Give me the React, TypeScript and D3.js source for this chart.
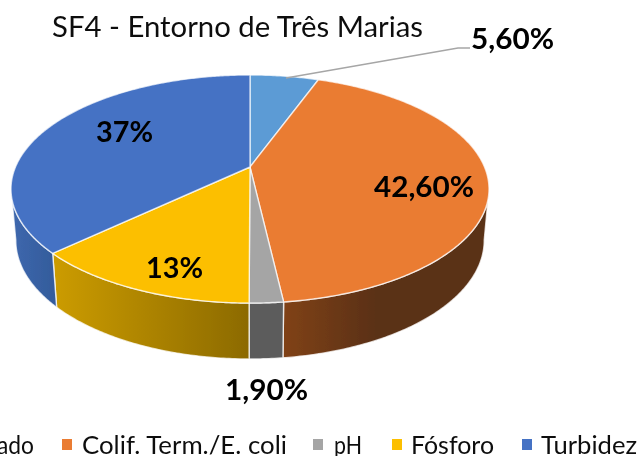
import * as d3 from "d3";

const categories = ["(cut off)", "Colif. Term./E. coli", "pH", "Fósforo", "Turbidez"];
const values = [5.6, 42.6, 1.9, 13, 37];
const valueLabels = ["5,60%", "42,60%", "1,90%", "13%", "37%"];
const colors = ["#5b9bd5", "#ea7b33", "#a5a5a5", "#fcbf00", "#4472c4"];
const wallFrom = ["#3f71a8", "#804219", "#5c5c5c", "#cc9c00", "#3e68ae"];
const wallTo = ["#3f71a8", "#5a3014", "#5c5c5c", "#8c6a00", "#345c9c"];

// where the texts sit: [left, baseline, right]
const labelBoxes = [
  [471, 49, 554],
  [374, 197, 474],
  [225, 400, 308],
  [146, 278, 203],
  [96, 142, 153],
];
const legendBoxes = [
  [82, 287, 62],
  [334, 362, 313],
  [411, 494, 392],
  [541, 637, 522],
];

const width = 639;
const height = 456;

// the disc is drawn in perspective, so the pie's centre is not the ellipse's centre
const cx = 250;
const cy = 167;
const R = 234.5;
const S = 109.8;
const k = 0.193;
const frontStart = (101 * Math.PI) / 180;
const frontEnd = (259 * Math.PI) / 180;

function topPoint(a: number): [number, number] {
  const u = Math.sin(a);
  const v = -Math.cos(a);
  const d = 1 - k * v;
  return [cx + (R * u) / d, cy + (S * v) / d];
}

function lowPoint(a: number): [number, number] {
  const u = Math.sin(a);
  const v = -Math.cos(a);
  const d = 1 - k * v;
  return [cx + (0.98 * R * u) / d, 217.5 + (1.04 * S * v) / d];
}

function arcPoints(from: number, to: number, fn: (a: number) => [number, number]) {
  const n = Math.max(2, Math.ceil(Math.abs(to - from) / 0.01));
  return d3.range(n + 1).map((i) => fn(from + ((to - from) * i) / n));
}

const line = d3.line().curve(d3.curveLinear);

const slices = d3
  .pie<number>()
  .sort(null)
  .value((d) => d)(values);

export default function App() {
  return (
    <svg
      width={width}
      height={height}
      style={{ position: "absolute", left: 0, top: 0, fontFamily: "Lato, sans-serif" }}
    >
      <defs>
        <filter id="soft" x="-5%" y="-5%" width="110%" height="110%">
          <feGaussianBlur stdDeviation="0.4" />
        </filter>
        {slices.map((s, i) => {
          const a0 = Math.max(s.startAngle, frontStart);
          const a1 = Math.min(s.endAngle, frontEnd);
          if (a1 <= a0) return null;
          // gradients run left to right on screen
          const xs = [topPoint(a0)[0], topPoint(a1)[0]];
          return (
            <linearGradient
              key={i}
              id={`wall${i}`}
              gradientUnits="userSpaceOnUse"
              x1={d3.min(xs)}
              x2={d3.max(xs)}
              y1={0}
              y2={0}
            >
              <stop offset="0" stopColor={wallFrom[i]} />
              <stop offset={i === 1 ? "0.45" : "1"} stopColor={wallTo[i]} />
            </linearGradient>
          );
        })}
      </defs>

      <g filter="url(#soft)">
        {slices.map((s, i) => {
          const a0 = Math.max(s.startAngle, frontStart);
          const a1 = Math.min(s.endAngle, frontEnd);
          if (a1 <= a0) return null;
          const pts = [...arcPoints(a0, a1, topPoint), ...arcPoints(a1, a0, lowPoint)];
          return (
            <path
              key={i}
              d={line(pts) + "Z"}
              fill={`url(#wall${i})`}
              stroke="#fff"
              strokeOpacity={0.75}
              strokeWidth={1.4}
              strokeLinejoin="round"
            />
          );
        })}

        {slices.map((s, i) => (
          <path
            key={i}
            d={line([[cx, cy], ...arcPoints(s.startAngle, s.endAngle, topPoint)]) + "Z"}
            fill={colors[i]}
            stroke="#fff"
            strokeOpacity={0.7}
            strokeWidth={1.4}
            strokeLinejoin="round"
          />
        ))}

        <polyline points="286,78 458,48 470,48" fill="none" stroke="#a6a6a6" strokeWidth={1.3} />

        <text
          x={52}
          y={37}
          fontSize={29}
          fill="#111"
          textLength={371}
          lengthAdjust="spacingAndGlyphs"
        >
          SF4 - Entorno de Três Marias
        </text>

        {valueLabels.map((t, i) => (
          <text
            key={t}
            x={labelBoxes[i][0]}
            y={labelBoxes[i][1]}
            fontSize={29}
            fontWeight={700}
            fill="#000"
            textLength={labelBoxes[i][2] - labelBoxes[i][0]}
            lengthAdjust="spacingAndGlyphs"
          >
            {t}
          </text>
        ))}

        <text x={-3} y={454} fontSize={25} fill="#111" textLength={37} lengthAdjust="spacingAndGlyphs">
          ado
        </text>
        {categories.slice(1).map((c, i) => {
          const [x0, x1, mx] = legendBoxes[i];
          return (
            <g key={c}>
              <rect x={mx} y={439} width={10} height={11} fill={colors[i + 1]} />
              <text
                x={x0}
                y={454}
                fontSize={25}
                fill="#111"
                textLength={x1 - x0}
                lengthAdjust="spacingAndGlyphs"
              >
                {c}
              </text>
            </g>
          );
        })}
      </g>
    </svg>
  );
}
